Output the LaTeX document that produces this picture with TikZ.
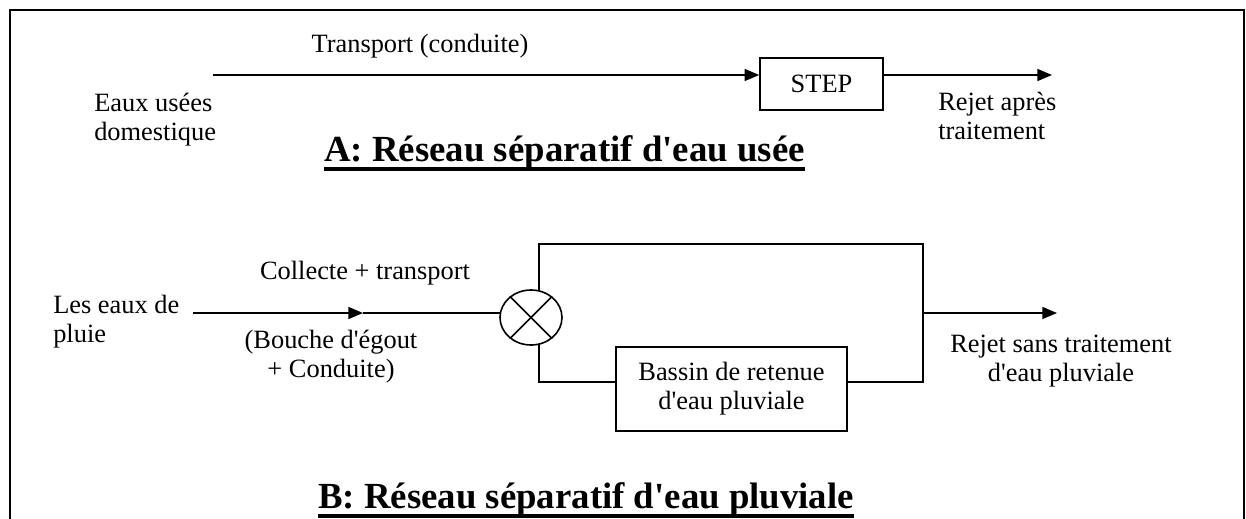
\documentclass[tikz,border=0pt]{standalone}
\usepackage{fontspec}
\newfontfamily\rmx{Liberation Serif}
\usetikzlibrary{arrows.meta,shapes.geometric}
\begin{document}
\begin{tikzpicture}[x=0.75pt,y=-0.75pt,
  txt/.style={font=\rmx\fontsize{19.8}{21.75}\selectfont, inner sep=0pt},
  ttl/.style={font=\rmx\fontsize{27.6}{32}\selectfont\bfseries, inner sep=0pt},
  boxn/.style={draw, line width=1.2pt, inner sep=0pt, align=center, font=\rmx\fontsize{19.8}{21.75}\selectfont},
  ln/.style={line width=1.2pt},
  arr/.style={ln, -{Triangle[length=11pt,width=9pt]}},
  uline/.style={fill=black}]
\useasboundingbox (0,0) rectangle (1246,518);
\clip (0,0) rectangle (1246,518);
\draw[line width=1.8pt] (10,10) rectangle (1244,560);

% ---------- A ----------
\node[boxn, minimum width=92.25pt, minimum height=39pt] (step) at (821.5,84) {STEP};
\coordinate (a0) at (213,75);
\coordinate (a1) at (1052,75);
\draw[arr] (a0) -- (step.west |- a0);
\draw[arr] (step.east |- a1) -- (a1);
\node[txt, anchor=base] (transport) at (420,52) {Transport (conduite)};
\node[txt, anchor=base west] (eaux1) at (94,111) {Eaux usées};
\node[txt, anchor=base west] (eaux2) at (94,140) {domestique};
\node[txt, anchor=base west] (rejA1) at (938,110) {Rejet après};
\node[txt, anchor=base west] (rejA2) at (938,139) {traitement};
\node[ttl, anchor=base] (titleA) at (564.5,161) {A: Réseau séparatif d'eau usée};
\fill[uline] ([yshift=-4.5pt]titleA.base west) rectangle ([yshift=-7.5pt]titleA.base east);

% ---------- B ----------
\node[draw, ellipse, line width=1.2pt, minimum width=46.5pt, minimum height=41.25pt, inner sep=0pt] (mix) at (531,317.5) {};
\draw[ln] (mix.135) -- (mix.-45);
\draw[ln] (mix.45) -- (mix.-135);
\coordinate (b0) at (193,313);
\coordinate (bm) at (363,313);
\coordinate (bin) at (500.3,313);
\draw[arr] (b0) -- (bm);
\draw[ln] (bm) -- (bin);
\node[boxn, minimum width=173.25pt, minimum height=63pt] (bassin) at (731.5,389) {Bassin de retenue\\d'eau pluviale};
\coordinate (tl) at (539,244);
\coordinate (tr) at (923,244);
\coordinate (br) at (923,382);
\coordinate (bl) at (539,382);
\coordinate (mt) at (539,291);
\coordinate (mb) at (539,344);
\draw[ln] (mt) -- (tl) -- (tr) -- (br) -- (bassin.east |- br);
\draw[ln] (mb) -- (bl) -- (bassin.west |- bl);
\coordinate (o0) at (923,313);
\coordinate (o1) at (1057,313);
\draw[arr] (o0) -- (o1);
\node[txt, anchor=base west] (pluie1) at (53,313) {Les eaux de};
\node[txt, anchor=base west] (pluie2) at (53,342) {pluie};
\node[txt, anchor=base] (collecte) at (365,279) {Collecte + transport};
\node[txt, anchor=base] (bouche1) at (331,348) {(Bouche d'égout};
\node[txt, anchor=base] (bouche2) at (331,377) {+ Conduite)};
\node[txt, anchor=base] (rejB1) at (1061,352) {Rejet sans traitement};
\node[txt, anchor=base] (rejB2) at (1061,381) {d'eau pluviale};
\node[ttl, anchor=base] (titleB) at (586,508) {B: Réseau séparatif d'eau pluviale};
\fill[uline] ([yshift=-4.5pt]titleB.base west) rectangle ([yshift=-7.5pt]titleB.base east);
\end{tikzpicture}
\end{document}
